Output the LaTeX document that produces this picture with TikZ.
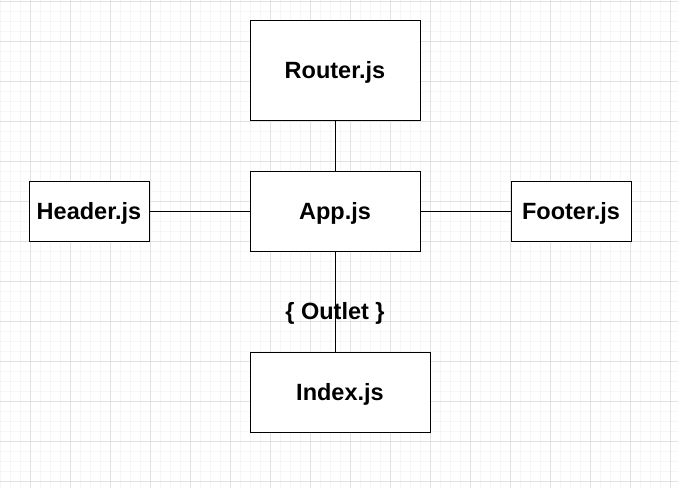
\documentclass[tikz,border=0pt]{standalone}
\usepackage{fontspec}
\setmainfont{Liberation Sans}
\usetikzlibrary{positioning}

\definecolor{gridminor}{HTML}{F6F6F6}
\definecolor{gridmajor}{HTML}{E2E2E2}

\begin{document}
\begin{tikzpicture}[x=1pt, y=-1pt, comp/.style={rectangle, draw, fill=white, line width=1pt, align=center, text height=16.5pt, text depth=0pt, font=\fontsize{23.5}{27}\selectfont\bfseries}]
	\useasboundingbox (0,0) rectangle (678,488);

	% grid
	\foreach \gx in {0,10,...,670} \draw[gridminor, line width=0.8pt] (\gx,0) -- (\gx,488);
	\foreach \gy in {1,11,...,481} \draw[gridminor, line width=0.8pt] (0,\gy) -- (678,\gy);
	\foreach \gx in {30,70,...,670} \draw[gridmajor, line width=0.8pt] (\gx,0) -- (\gx,488);
	\foreach \gy in {1,41,...,481} \draw[gridmajor, line width=0.8pt] (0,\gy) -- (678,\gy);

	% nodes
	\node[comp, minimum width=170pt, minimum height=80pt] (app) at (335,211) {App.js};
	\node[comp, minimum width=170pt, minimum height=100pt, above=50pt of app] (router) {Router.js}; %
	\node[comp, minimum width=120pt, minimum height=60pt, left=100pt of app] (header) {Header.js}; %
	\node[comp, minimum width=120pt, minimum height=60pt, right=90pt of app] (footer) {Footer.js}; %
	\node[comp, minimum width=180pt, minimum height=80pt, below=100pt of app, xshift=5pt] (index) {Index.js}; %

	% edges
	\draw[line width=1pt] (router) -- (app);
	\draw[line width=1pt] (header) -- (app);
	\draw[line width=1pt] (app) -- (footer);
	\draw[line width=1pt] (app.south) -- (app.south |- index.north) node [pos=0.6, text height=16.5pt, text depth=0pt, font=\fontsize{23.5}{27}\selectfont\bfseries] (outlet) {\{ Outlet \}};
\end{tikzpicture}
\end{document}
